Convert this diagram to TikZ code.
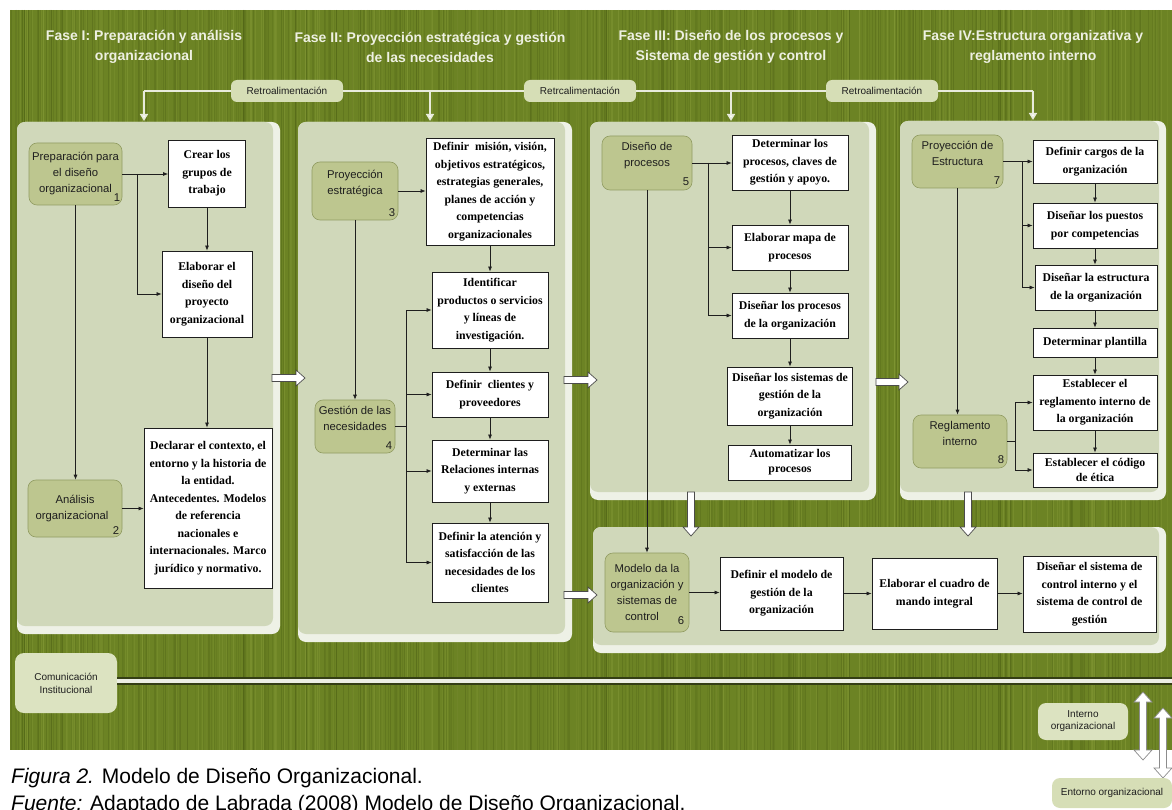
\documentclass[tikz,border=0pt]{standalone}
\usepackage{fontspec}
\setmainfont{Liberation Sans}
\newfontfamily\boxserif{Liberation Serif}
\usetikzlibrary{arrows.meta,calc}

\definecolor{grass}{RGB}{108,131,36}
\definecolor{grassdark}{RGB}{80,100,22}
\definecolor{grasslight}{RGB}{146,166,64}
\definecolor{panelfill}{RGB}{208,216,186}
\definecolor{panelhi}{RGB}{238,241,230}
\definecolor{stepfill}{RGB}{189,198,143}
\definecolor{stepline}{RGB}{145,156,98}
\definecolor{tagfill}{RGB}{214,222,182}
\definecolor{headtext}{RGB}{238,240,226}
\definecolor{ink}{RGB}{30,30,30}
\definecolor{retroline}{RGB}{232,235,220}
\definecolor{railedge}{RGB}{52,62,20}
\definecolor{railmid}{RGB}{236,238,228}

\tikzset{
  wbox/.style={draw=ink, line width=0.8pt, fill=white, align=center, inner sep=2pt,
    font=\boxserif\bfseries\fontsize{11.8}{17.5}\selectfont, text=black},
  stepbox/.style={draw=stepline, line width=0.6pt, fill=stepfill, rounded corners=8pt,
    align=center, inner sep=2pt, font=\fontsize{11.3}{16}\selectfont, text=ink},
  num/.style={font=\fontsize{11.3}{13}\selectfont, text=ink, inner sep=0pt},
  tag/.style={fill=tagfill, rounded corners=6pt, align=center, inner sep=2pt,
    font=\fontsize{10}{12}\selectfont, text=ink},
  head/.style={align=center, font=\bfseries\fontsize{14}{20}\selectfont, text=headtext},
  conn/.style={draw=ink, line width=0.7pt, -{Latex[length=5pt,width=4pt]}},
  plain/.style={draw=ink, line width=0.7pt},
  retro/.style={draw=retroline, line width=1.6pt},
  retroarr/.style={retro, -{Triangle[length=7pt,width=8pt,fill=white]}},
  blockarrow/.style={draw=black!70, fill=white, line width=0.7pt},
}

% light panel with a pale bevel on its right and bottom edges
\newcommand\phasepanel[4]{%
  \fill[panelhi, rounded corners=8pt] (#1,#2) rectangle (#3,#4);
  \fill[panelfill, rounded corners=8pt] (#1,#2) rectangle (#3-7,#4-8);}
% hollow block arrows
\newcommand\rblock[3]{% x1, x2, y
  \draw[blockarrow] (#1,#3-3.5) -- (#2-9,#3-3.5) -- (#2-9,#3-8) -- (#2,#3)
    -- (#2-9,#3+8) -- (#2-9,#3+3.5) -- (#1,#3+3.5) -- cycle;}
\newcommand\dblock[3]{% x, y1, y2
  \draw[blockarrow] (#1-3.5,#2) -- (#1-3.5,#3-9) -- (#1-8,#3-9) -- (#1,#3)
    -- (#1+8,#3-9) -- (#1+3.5,#3-9) -- (#1+3.5,#2) -- cycle;}
\newcommand\vdarrow[3]{% x, ytop, ybottom
  \draw[blockarrow, draw=black!45] (#1-3.5,#2+10) -- (#1-9,#2+10) -- (#1,#2) -- (#1+9,#2+10)
    -- (#1+3.5,#2+10) -- (#1+3.5,#3-10) -- (#1+9,#3-10) -- (#1,#3) -- (#1-9,#3-10)
    -- (#1-3.5,#3-10) -- cycle;}

\begin{document}
\begin{tikzpicture}[x=1pt,y=-1pt]
\useasboundingbox (0,0) rectangle (1172,810);
\clip (0,0) rectangle (1172,810);

% ---- textured green ground ----
\fill[grass] (10,10) rectangle (1172,750);
\pgfmathsetseed{11}
\foreach \i in {1,...,420}{
  \pgfmathsetmacro\xx{10+1160*rnd}
  \pgfmathsetmacro\op{0.15+0.3*rnd}
  \draw[grassdark, opacity=\op, line width=0.9pt] (\xx,10) -- (\xx,750);
}
\foreach \i in {1,...,260}{
  \pgfmathsetmacro\xx{10+1160*rnd}
  \pgfmathsetmacro\op{0.1+0.25*rnd}
  \draw[grasslight, opacity=\op, line width=0.8pt] (\xx,10) -- (\xx,750);
}

% ---- phase headings ----
\node[head] (h1) at (144,47) {Fase I: Preparación y análisis\\organizacional};
\node[head] (h2) at (430,47) {Fase II: Proyección estratégica y gestión\\de las necesidades};
\node[head] (h3) at (731,47) {Fase III: Diseño de los procesos y\\Sistema de gestión y control};
\node[head] (h4) at (1033,47) {Fase IV:Estructura organizativa y\\reglamento interno};

% ---- panels ----
\phasepanel{17}{122}{280}{634}
\phasepanel{298}{122}{572}{642}
\phasepanel{590}{122}{876}{500}
\phasepanel{900}{121}{1166}{500}
\phasepanel{593}{527}{1166}{653}

% ---- feedback line ----
\node[tag, minimum width=112, minimum height=22] (r1) at (287,91) {Retroalimentación};
\node[tag, minimum width=112, minimum height=22] (r2) at (580,91) {Retrcalimentación};
\node[tag, minimum width=112, minimum height=22] (r3) at (882,91) {Retroalimentación};
\coordinate (t1) at (144,91);
\coordinate (t2) at (430,91);
\coordinate (t3) at (731,91);
\coordinate (t4) at (1033,91);
\coordinate (p1) at (144,121);
\coordinate (p2) at (430,121);
\coordinate (p3) at (731,121);
\coordinate (p4) at (1033,120);
\draw[retro] (t1) -- (r1.west);
\draw[retro] (r1.east) -- (r2.west);
\draw[retro] (r2.east) -- (r3.west);
\draw[retro] (r3.east) -- (t4);
\draw[retroarr] (t1) -- (p1);
\draw[retroarr] (t2) -- (p2);
\draw[retroarr] (t3) -- (p3);
\draw[retroarr] (t4) -- (p4);

% ---- Fase I ----
\node[stepbox, minimum width=93, minimum height=62] (prep) at (75.5,174) {Preparación para\\el diseño\\organizacional};
\node[num, anchor=south east] at ($(prep.south east)+(-2,-4)$) {1};
\node[wbox, minimum width=77, minimum height=67] (crear) at (207,173.5) {Crear los\\grupos de\\trabajo};
\node[wbox, minimum width=90, minimum height=86] (elab) at (207,294) {Elaborar el\\diseño del\\proyecto\\organizacional};
\node[wbox, minimum width=128, minimum height=160] (decl) at (208,508) {Declarar el contexto, el\\entorno y la historia de\\la entidad.\\Antecedentes. Modelos\\de referencia\\nacionales e\\internacionales. Marco\\jurídico y normativo.};
\node[stepbox, minimum width=94, minimum height=57] (anal) at (75,508.5) {Análisis\\organizacional\hspace*{6pt}};
\node[num, anchor=south east] at ($(anal.south east)+(-3,-3)$) {2};

\draw[conn] (prep.east) -- (prep.east -| crear.west);
\coordinate (b1) at ($(prep.east)+(15,0)$);
\draw[conn] (b1) |- (elab.west);
\draw[conn] (crear.south) -- (elab.north);
\draw[conn] (elab.south) -- (elab.south |- decl.north);
\draw[conn] (prep.south) -- (prep.south |- anal.north);
\draw[conn] (anal.east) -- (anal.east -| decl.west);

% ---- Fase II ----
\node[stepbox, minimum width=86, minimum height=58] (proy) at (355,191) {Proyección\\estratégica\\[2pt]};
\node[num, anchor=south east] at ($(proy.south east)+(-3,-3)$) {3};
\node[wbox, minimum width=128, minimum height=107] (mision) at (490,191.5) {Definir\ \ misión, visión,\\objetivos estratégicos,\\estrategias generales,\\planes de acción y\\competencias\\organizacionales};
\node[wbox, minimum width=116, minimum height=76] (ident) at (490,310) {Identificar\\productos o servicios\\y líneas de\\investigación.};
\node[wbox, minimum width=116, minimum height=45] (clien) at (490,394.5) {Definir\ \ clientes y\\proveedores};
\node[wbox, minimum width=116, minimum height=62] (relac) at (490,471) {Determinar las\\Relaciones internas\\y externas};
\node[wbox, minimum width=116, minimum height=79] (atenc) at (490,562.5) {Definir la atención y\\satisfacción de las\\necesidades de los\\clientes};
\node[stepbox, minimum width=80, minimum height=53] (gest) at (355,426.5) {Gestión de las\\necesidades\\[1pt]};
\node[num, anchor=south east] at ($(gest.south east)+(-3,-4)$) {4};

\draw[conn] (proy.east) -- (proy.east -| mision.west);
\draw[conn] (proy.south) -- (proy.south |- gest.north);
\draw[conn] (mision.south) -- (ident.north);
\draw[conn] (ident.south) -- (clien.north);
\draw[conn] (clien.south) -- (relac.north);
\draw[conn] (relac.south) -- (atenc.north);
\coordinate (b2) at (406,426.5);
\draw[plain] (gest.east) -- (b2);
\draw[conn] (b2) |- (ident.west);
\draw[conn] (b2) |- (clien.west);
\draw[conn] (b2) |- (relac.west);
\draw[conn] (b2) |- (atenc.west);

% ---- Fase III ----
\node[stepbox, minimum width=90, minimum height=54] (disp) at (647,163) {Diseño de\\procesos\\[1pt]};
\node[num, anchor=south east] at ($(disp.south east)+(-3,-4)$) {5};
\node[wbox, minimum width=116, minimum height=55] (detp) at (790,162.5) {Determinar los\\procesos, claves de\\gestión y apoyo.};
\node[wbox, minimum width=116, minimum height=45] (mapa) at (790,247.5) {Elaborar mapa de\\procesos};
\node[wbox, minimum width=116, minimum height=45] (dproc) at (790,315.5) {Diseñar los procesos\\de la organización};
\node[wbox, minimum width=125, minimum height=58] (dsis) at (790,396) {Diseñar los sistemas de\\gestión de la\\organización};
\node[wbox, minimum width=123, minimum height=35, font=\boxserif\bfseries\fontsize{11.8}{15}\selectfont, inner sep=1pt] (auto) at (790,462.5) {Automatizar los\\procesos};

\draw[conn] (disp.east) -- (disp.east -| detp.west);
\coordinate (b3) at (708,163);
\draw[conn] (b3) |- (mapa.west);
\draw[conn] (b3) |- (dproc.west);
\draw[conn] (detp.south) -- (mapa.north);
\draw[conn] (mapa.south) -- (dproc.north);
\draw[conn] (dproc.south) -- (dsis.north);
\draw[conn] (dsis.south) -- (auto.north);

% ---- Fase IV ----
\node[stepbox, minimum width=91, minimum height=53] (proye) at (957.5,161.5) {Proyección de\\Estructura\\[1pt]};
\node[num, anchor=south east] at ($(proye.south east)+(-3,-4)$) {7};
\node[wbox, minimum width=124, minimum height=43] (carg) at (1095,161.5) {Definir cargos de la\\organización};
\node[wbox, minimum width=124, minimum height=45] (puest) at (1095,225.5) {Diseñar los puestos\\por competencias};
\node[wbox, minimum width=122, minimum height=45] (estr) at (1096,287.5) {Diseñar la estructura\\de la organización};
\node[wbox, minimum width=124, minimum height=29] (plant) at (1095,342.5) {Determinar plantilla};
\node[wbox, minimum width=124, minimum height=55] (regl) at (1095,402.5) {Establecer el\\reglamento interno de\\la organización};
\node[wbox, minimum width=124, minimum height=34, font=\boxserif\bfseries\fontsize{11.8}{15}\selectfont, inner sep=1pt] (etica) at (1095,470) {Establecer el código\\de ética};
\node[stepbox, minimum width=94, minimum height=53] (rint) at (960,441.5) {Reglamento\\interno\\[1pt]};
\node[num, anchor=south east] at ($(rint.south east)+(-3,-4)$) {8};

\draw[conn] (proye.east) -- (proye.east -| carg.west);
\coordinate (b4) at (1022,161.5);
\draw[conn] (b4) |- (puest.west);
\draw[conn] (b4) |- (estr.west);
\draw[conn] (carg.south) -- (puest.north);
\draw[conn] (puest.south) -- (puest.south |- estr.north);
\draw[conn] (estr.south -| plant.north) -- (plant.north);
\draw[conn] (plant.south) -- (regl.north);
\draw[conn] (regl.south) -- (etica.north);
\draw[conn] (proye.south) -- (proye.south |- rint.north);
\coordinate (b5) at (1015,441.5);
\draw[plain] (rint.east) -- (b5);
\draw[conn] (b5) |- (regl.west);
\draw[conn] (b5) |- (etica.west);

% ---- model and control systems ----
\node[stepbox, minimum width=84, minimum height=79] (model) at (647,592.5) {Modelo da la\\organización y\\sistemas de\\control\hspace*{10pt}};
\node[num, anchor=south east] at ($(model.south east)+(-5,-7)$) {6};
\node[wbox, minimum width=123, minimum height=73] (defm) at (781.5,593.5) {Definir el modelo de\\gestión de la\\organización};
\node[wbox, minimum width=125, minimum height=71] (cuad) at (934.5,593.5) {Elaborar el cuadro de\\mando integral};
\node[wbox, minimum width=133, minimum height=76] (dsc) at (1089.5,594) {Diseñar el sistema de\\control interno y el\\sistema de control de\\gestión};

\draw[conn] (disp.south) -- (disp.south |- model.north);
\draw[conn] (model.east) -- (model.east -| defm.west);
\draw[conn] (defm.east) -- (defm.east -| cuad.west);
\draw[conn] (cuad.east) -- (cuad.east -| dsc.west);

% ---- hollow block arrows between the phases ----
\rblock{272}{305}{378}
\rblock{564}{597}{380}
\rblock{564}{597}{595}
\rblock{876}{908}{382}
\dblock{691}{492}{536}
\dblock{968}{492}{536}

% ---- institutional communication ----
\node[tag, minimum width=102, minimum height=60, rounded corners=9pt, fill=tagfill!85!white, font=\fontsize{10}{13}\selectfont] (comm) at (66,683) {Comunicación\\Institucional};
\coordinate (railend) at (1172,681);
\draw[railedge, line width=8pt] (comm.east |- railend) -- (railend);
\draw[railmid, line width=3.5pt] (comm.east |- railend) -- (railend);

\node[tag, minimum width=90, minimum height=37, rounded corners=8pt, fill=tagfill!85!white] (intr) at (1083,721.5) {Interno\\organizacional};
\vdarrow{1143}{692}{760}
\vdarrow{1163}{708}{778}
\node[tag, minimum width=120, minimum height=30, rounded corners=8pt] (ento) at (1112,793) {Entorno organizacional};

% ---- caption ----
\node[anchor=base west, inner sep=0pt, font=\fontsize{21}{24}\selectfont, text=black] (cap1) at (11,783) {\textit{Figura 2.} Modelo de Diseño Organizacional.};
\node[anchor=base west, inner sep=0pt, font=\fontsize{21}{24}\selectfont, text=black] (cap2) at (11,810) {\textit{Fuente:} Adaptado de Labrada (2008) Modelo de Diseño Organizacional.};
\end{tikzpicture}
\end{document}
